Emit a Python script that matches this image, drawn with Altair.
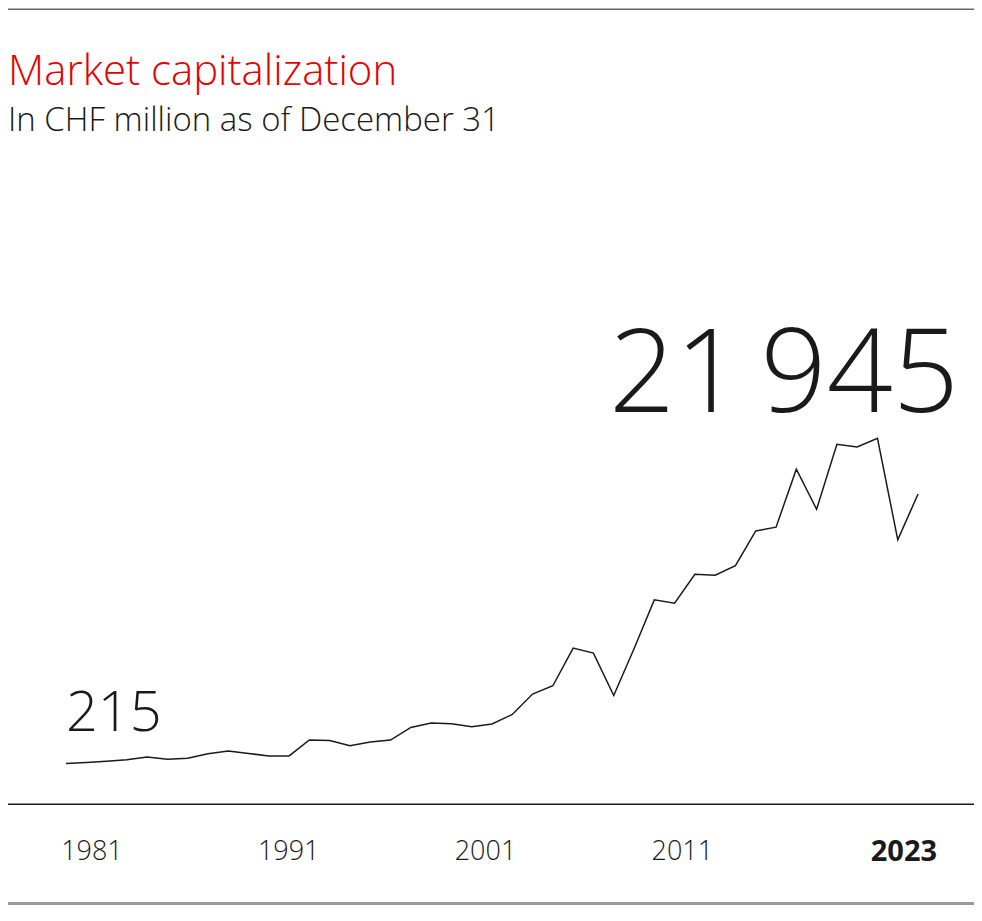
import altair as alt
import pandas as pd

# ---- data ----
years = list(range(1981, 2024))
market_cap = [215, 296, 390, 513, 731, 554, 634, 997, 1214, 1021,
              811, 819, 2109, 2060, 1641, 1939, 2101, 3116, 3470, 3414,
              3172, 3390, 4163, 5807, 6476, 9513, 9110, 5694, 9457, 13405,
              13139, 15460, 15395, 16169, 18965, 19263, 23936, 20713, 25950, 25733,
              26434, 18240, 21945]
tick_years = [1981, 1991, 2001, 2011, 2023]
title_text = "Market capitalization"
subtitle_text = "In CHF million as of December 31"
first_label = "215"
last_label = "21\u2009945"

W, H = 967, 898
FONT = "Open Sans"

df = pd.DataFrame({"year": years, "value": market_cap})
ticks = pd.DataFrame({"year": tick_years})
one = pd.DataFrame({"k": [0]})

xs = alt.Scale(domain=[1981, 2023], range=[58, 911])
ys = alt.Scale(domain=[0, 30000], range=[758.4, 386.0])
xt = alt.Scale(domain=[1981, 2011], range=[84, 675])

line = alt.Chart(df).mark_line(color="#1a1a1a", strokeWidth=1.5).encode(
    x=alt.X("year:Q", scale=xs, axis=None),
    y=alt.Y("value:Q", scale=ys, axis=None),
)

first = alt.Chart(df.head(1)).mark_text(
    align="left", baseline="alphabetic", dy=-32, fontSize=56,
    font=FONT, fontWeight=300, color="#1a1a1a"
).encode(
    x=alt.X("year:Q", scale=xs, axis=None),
    y=alt.Y("value:Q", scale=ys, axis=None),
    text=alt.value(first_label),
)

last = alt.Chart(df.tail(1)).mark_text(
    align="right", baseline="alphabetic", dx=41, dy=-82, fontSize=116,
    font=FONT, fontWeight=300, color="#1a1a1a"
).encode(
    x=alt.X("year:Q", scale=xs, axis=None),
    y=alt.Y("value:Q", scale=ys, axis=None),
    text=alt.value(last_label),
)

tick_regular = alt.Chart(ticks).transform_filter("datum.year != 2023").mark_text(
    align="center", baseline="alphabetic", fontSize=27, font=FONT,
    fontWeight=300, color="#1a1a1a"
).encode(
    x=alt.X("year:Q", scale=xt, axis=None),
    y=alt.value(852),
    text=alt.Text("year:N"),
)
tick_bold = alt.Chart(ticks).transform_filter("datum.year == 2023").mark_text(
    align="right", baseline="alphabetic", fontSize=29, font=FONT, dx=19,
    fontWeight="bold", color="#1a1a1a"
).encode(
    x=alt.X("year:Q", scale=xs, axis=None),
    y=alt.value(853),
    text=alt.Text("year:N"),
)

axis_rule = alt.Chart(one).mark_rule(color="#1a1a1a", strokeWidth=1.5).encode(
    x=alt.value(0), x2=alt.value(W), y=alt.value(796.5)
)
top_rule = alt.Chart(one).mark_rule(color="#666666", strokeWidth=1.5).encode(
    x=alt.value(0), x2=alt.value(W), y=alt.value(0.75)
)
bottom_rule = alt.Chart(one).mark_rule(color="#999999", strokeWidth=3).encode(
    x=alt.value(0), x2=alt.value(W), y=alt.value(896)
)

title = alt.Chart(one).mark_text(
    align="left", baseline="alphabetic", fontSize=42, font=FONT, fontWeight=300, color="#e60000"
).encode(x=alt.value(0), y=alt.value(77), text=alt.value(title_text))

subtitle = alt.Chart(one).mark_text(
    align="left", baseline="alphabetic", fontSize=33, font=FONT, fontWeight=300, color="#1a1a1a"
).encode(x=alt.value(0), y=alt.value(123), text=alt.value(subtitle_text))

chart = alt.layer(
    top_rule, title, subtitle, line, first, last, axis_rule, tick_regular, tick_bold, bottom_rule
).resolve_scale(x="independent").properties(
    width=W, height=H, padding=0, autosize=alt.AutoSizeParams(type="none")
).configure_view(stroke=None)

chart.save("out.html", embed_options={"renderer": "svg", "actions": False})
